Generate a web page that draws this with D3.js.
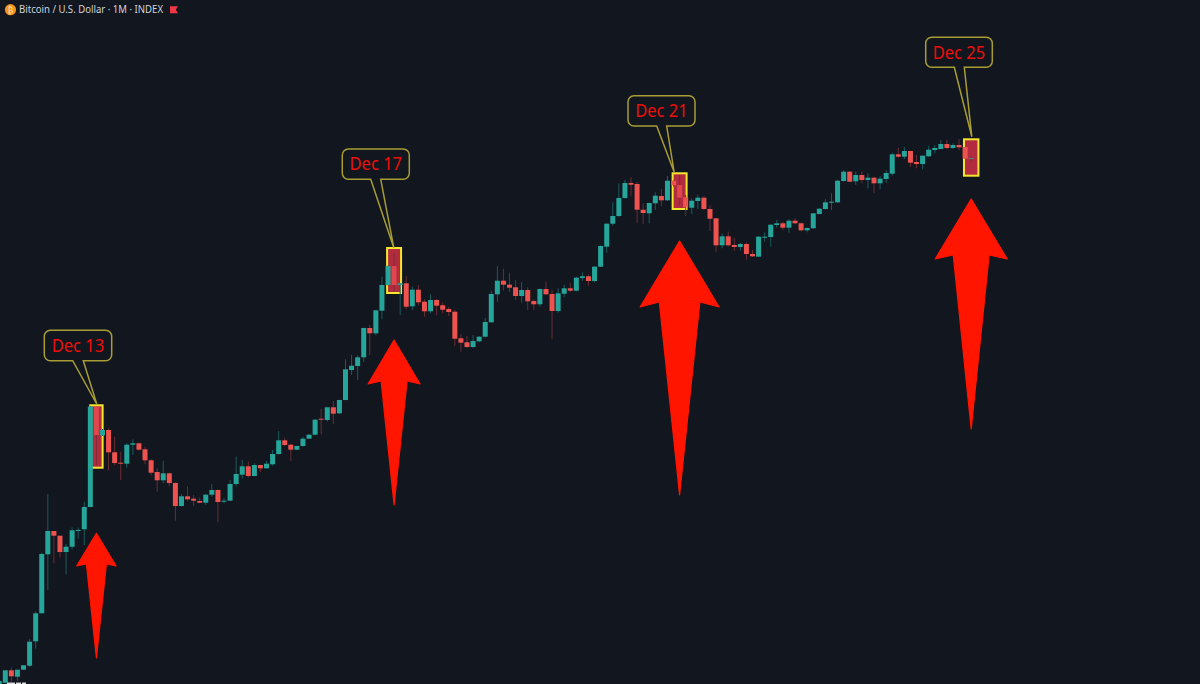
<!DOCTYPE html>
<html><head><meta charset="utf-8">
<script src="https://cdn.jsdelivr.net/npm/d3@7/dist/d3.min.js"></script>
<style>html,body{margin:0;padding:0;background:#12161f;overflow:hidden}svg{display:block}</style>
</head><body><div id="chart"></div>
<script>
const title = "Bitcoin / U.S. Dollar · 1M · INDEX";
// Candle numbers run from -1 (clipped at the left edge) to 159; values are chart units.
const firstCandle = -1;
const opens = [-2,1.3,13.7,7.3,14.3,18.3,42.7,70.7,129.7,153,148.3,132,137.3,153.3,154.7,177,277.3,248.7,254,231.7,221.3,220.3,239.3,240.7,234.7,223.7,212,203.7,210.7,201,178,187.7,185.3,183,181.3,189.3,194,182.3,183.3,200,209.3,217.7,208,219,215.7,219.7,230,243.7,239.3,234.3,238,245.3,249.3,265.3,264,276.7,270.7,284,314,318,326.7,356,350.7,373.3,399,418,399,400.7,377.7,394.3,382.3,372.7,384,378.7,375,372.3,345.7,341.7,337,342.7,347.3,361.7,389.7,403.3,399.3,396.7,388,394,383,379.7,395,390,373,390.3,395.7,393.3,406,407.7,403,417.3,437.3,460.3,468,486,501,500,474.3,470.7,480.7,488,483.7,503.3,499,486.7,476.3,483,486.3,475,465.7,438.7,447.7,439,437,440,430,427.3,447,447,459,460.7,456.3,463.3,460.7,453.7,455.7,470,475,481.3,481.7,503,512.3,502.7,509,504,506.3,500.7,505,510.3,529.7,527.3,533,522,520,527.7,534,535,540,536,539,537,525];
const highs = [3,13.7,16.7,14.3,18.7,45,72.3,131.3,190,153,148.3,140,156.7,156.7,182.3,278,277.3,255,255.7,247.3,232.3,240.7,244.7,241.3,237.3,225,215.7,223.3,211.3,201.7,190,197.3,189,186.3,190,200,194.7,186,204,227.3,224,222.3,220.7,219.3,223,234,253,246.3,240,238.3,247.3,250,265,275,277.3,283,284.3,324.7,329,328.7,356.3,359,374,407.3,418.5,430.7,401,408,397.3,399,384.7,389.7,385,381.7,377,374,350,348,349,348,366,393.3,418,415.3,411.3,404,402,396.7,384.7,395.3,402.3,394,395.7,399,401.3,407.3,411.7,409.7,418,438.5,460.7,481.7,500.7,504,506.7,502,480.7,481.3,491.7,495,508,503.7,509,489,485.7,489.3,488.3,478.7,466,450.7,452.3,446.3,441.3,441.3,434,448,451.7,459.5,464,462.3,464.7,465.7,461.3,456.3,471,475.7,485,490.7,504.3,514,513,512.3,512.3,510.7,507.3,508,514,531.3,536.3,537,533.3,529,528.5,538,539,544,544.3,540.7,545,537.3,528.7];
const lows = [-2,0.5,2.3,3,14,17,35.3,70.7,94,120.7,126.7,109.7,134.7,145.3,139,177,219,248,213.3,218.7,204,216.3,229,233.3,219.7,208.7,192.3,200.7,197.7,163.3,177.3,183.3,178,180.7,179,187.3,161.7,180.7,183,197.3,205.3,206.3,207.7,212,215.3,218.3,229.3,238,223,233.7,237.3,245,248.7,249.7,262.3,259.7,270,283.7,309,304,322,329,348.7,364.7,398.5,392.3,369,374.7,374,378.7,367.3,370.7,368.7,370.7,368,338,332.3,336,336,342,346.7,361.5,382.3,393.3,392,384,381.3,374,374,377.3,389,344.7,371.3,386.7,392,392.7,403,398.3,401.7,417,431.3,458.3,466.7,485.3,488,461.3,460,460.7,474,478,483,497.5,479,468,470,474.7,474,453,431.7,435.7,437.3,433.3,433.3,424,427,427,442.3,437.3,456.3,454,451.3,460,452.7,451.7,455.3,469.7,474.3,474,481,502.3,502,499,500.7,495.7,490.7,494.7,501.3,508.3,526.3,525,517.3,515.7,514.7,527,530.7,534.7,535,535.3,534,525,522];
const closes = [3,13.7,7.7,14.3,18.7,42.3,70.7,130,153,148.3,132,137.3,153.7,154,177,277.3,249,254,231.7,221,220.3,239.3,240.7,234.3,223.7,211.3,203.7,210.7,201,178,187.7,184.7,183.3,181.3,189.3,194,182,183.3,200,210,217.7,208,219,215.7,220.3,230,243.7,239,234.3,238,245.3,249.3,264.3,264.3,276.7,270.3,284,314.7,318.3,326.7,356,350.7,373.7,399,418,399,400.7,377.3,394.3,381.7,372.7,384,378.3,374.3,372,345.3,341.3,337,343,347.3,362,390,403.3,399.3,396.3,388,394,382.7,379.7,395,389.7,373,390.7,395.7,393.3,406.3,407.7,403,417.3,438,460.3,468,486,501,499.3,474.3,471,481,488.3,483.7,503.3,498.7,486.3,476.7,483.3,486.3,475,465.3,438.7,447.7,438.7,437,440,430,427.7,447.3,447.3,459.3,460.7,456.3,463.3,460.7,453.7,456,470.7,475.3,481.7,482.3,503.3,512.3,502.3,509,504,506.3,500.7,505.3,511,529.7,527.3,533,521.3,520,528.3,534.3,536,540,536,539,536.7,525.3,526];

const highlightCandles = [15,64,111,159];
const highlightTops = [278.7,436,510.7,544.7];
const highlightBottoms = [216.3,391,475,508.3];
const highlightHalfWidths = [1.02,1.15,1.15,1.19];

const calloutLabels = ["Dec 13","Dec 17","Dec 21","Dec 25"];
const calloutTipValues = [280,436.3,512,547.3];
const calloutTipCandles = [15.05,63.95,110.1,159.1];

const arrowCandles = [15,64,111,159];
const arrowTips = [150.7,344,443,485];
const arrowCorners = [118,300,377,425];
const arrowInners = [120,303,382,429];
const arrowBottoms = [26,179,189,255];
const arrowHeadHalf = [3.25,4.28,6.5,5.93];
const arrowShaftHalf = [1.65,2.14,3.34,2.96];

// layout of the callout boxes, pixels: left, top, width, height, tail left, tail right
const calloutLayout = [[44.3,330.3,67.4,30.4,72.7,83.3],[342.3,149,67,30.3,370.7,380.7],[628,95.7,67,30.3,656.7,666.7],[925.7,37.3,66.6,30,954.3,964.3]];

const W = 1200, H = 684;
const candles = opens.map((o,i)=>({n:firstCandle+i,o,h:highs[i],l:lows[i],c:closes[i]}));
const x = d3.scaleLinear().domain([0,159]).range([5.3,971.2]);
const y = d3.scaleLinear().domain([0,684]).range([684,0]);
const UP="#26a69a", DOWN="#ef5350", UPW="#1a5c5e", DOWNW="#6b2d33";
const bodyW = 5;

const svg = d3.select("#chart").append("svg").attr("width",W).attr("height",H).attr("viewBox",`0 0 ${W} ${H}`);
svg.append("rect").attr("width",W).attr("height",H).attr("fill","#12161f");

// highlight boxes sit under the candles
svg.append("g").selectAll("rect").data(highlightCandles).join("rect")
  .attr("x",(d,i)=>x(d-highlightHalfWidths[i]))
  .attr("width",(d,i)=>x(d+highlightHalfWidths[i])-x(d-highlightHalfWidths[i]))
  .attr("y",(d,i)=>y(highlightTops[i]))
  .attr("height",(d,i)=>y(highlightBottoms[i])-y(highlightTops[i]))
  .attr("fill","#b32b3f").attr("stroke","#f5e62e").attr("stroke-width",2);

const g = svg.append("g").selectAll("g").data(candles).join("g")
  .attr("opacity",d=>highlightCandles.includes(d.n)?0.72:1);
g.append("line").attr("x1",d=>x(d.n)).attr("x2",d=>x(d.n)).attr("y1",d=>y(d.h)).attr("y2",d=>y(d.l))
  .attr("stroke",d=>d.c>=d.o?UPW:DOWNW).attr("stroke-width",1);
g.append("rect").attr("x",d=>x(d.n)-bodyW/2).attr("width",bodyW)
  .attr("y",d=>y(Math.max(d.o,d.c)))
  .attr("height",d=>Math.max(1,Math.abs(y(d.o)-y(d.c))))
  .attr("fill",d=>d.c>=d.o?UP:DOWN);

// arrows
svg.append("g").selectAll("path").data(arrowCandles).join("path")
  .attr("d",(d,i)=>{
    const p=d3.path();
    p.moveTo(x(d),y(arrowTips[i]));
    p.lineTo(x(d+arrowHeadHalf[i]),y(arrowCorners[i]));
    p.lineTo(x(d+arrowShaftHalf[i]),y(arrowInners[i]));
    p.lineTo(x(d),y(arrowBottoms[i]));
    p.lineTo(x(d-arrowShaftHalf[i]),y(arrowInners[i]));
    p.lineTo(x(d-arrowHeadHalf[i]),y(arrowCorners[i]));
    p.closePath();
    return p.toString();
  }).attr("fill","#ff1500").attr("stroke","#ff1500").attr("stroke-width",1.2).attr("stroke-linejoin","round");

// callouts
const co = svg.append("g").selectAll("g").data(calloutLabels).join("g");
co.append("path").attr("d",(d,i)=>{
    const [l,t,w,h,a,b]=calloutLayout[i], r=6, R=l+w, B=t+h, p=d3.path();
    p.moveTo(l+r,t); p.lineTo(R-r,t); p.arcTo(R,t,R,t+r,r);
    p.lineTo(R,B-r); p.arcTo(R,B,R-r,B,r);
    p.lineTo(b,B); p.lineTo(x(calloutTipCandles[i]),y(calloutTipValues[i])); p.lineTo(a,B);
    p.lineTo(l+r,B); p.arcTo(l,B,l,B-r,r);
    p.lineTo(l,t+r); p.arcTo(l,t,l+r,t,r); p.closePath();
    return p.toString();
  }).attr("fill","none").attr("stroke","#a89c34").attr("stroke-width",1.5);
co.append("text")
  .attr("x",(d,i)=>calloutLayout[i][0]+calloutLayout[i][2]/2)
  .attr("y",(d,i)=>calloutLayout[i][1]+calloutLayout[i][3]/2+6.3)
  .attr("text-anchor","middle").attr("font-family","'Noto Sans'").attr("font-size",17.5)
  .attr("textLength",52.5).attr("lengthAdjust","spacingAndGlyphs")
  .attr("fill","#ec0f0a").text(d=>d);

// header
svg.append("circle").attr("cx",10.5).attr("cy",9.7).attr("r",5.6).attr("fill","#f7931a");
svg.append("text").attr("x",10.5).attr("y",12.6).attr("text-anchor","middle").attr("font-family","'DejaVu Sans'").attr("font-size",8).attr("fill","#fde3c0").text("₿");
svg.append("text").attr("x",19).attr("y",13.4).attr("font-family","'Noto Sans'").attr("font-size",10.6)
  .attr("textLength",144).attr("lengthAdjust","spacingAndGlyphs").attr("fill","#d1d4dc").text(title);
svg.append("path").attr("d","M170,6.3H178L175.8,9.7L178,13.2H170Z").attr("fill","#f23645");

// clipped marks along the bottom edge
svg.append("g").selectAll("rect").data([[7,8],[16,5],[22,4]]).join("rect")
  .attr("x",d=>d[0]).attr("width",d=>d[1]).attr("y",682.5).attr("height",2).attr("fill","#d8d8d8");
</script></body></html>
